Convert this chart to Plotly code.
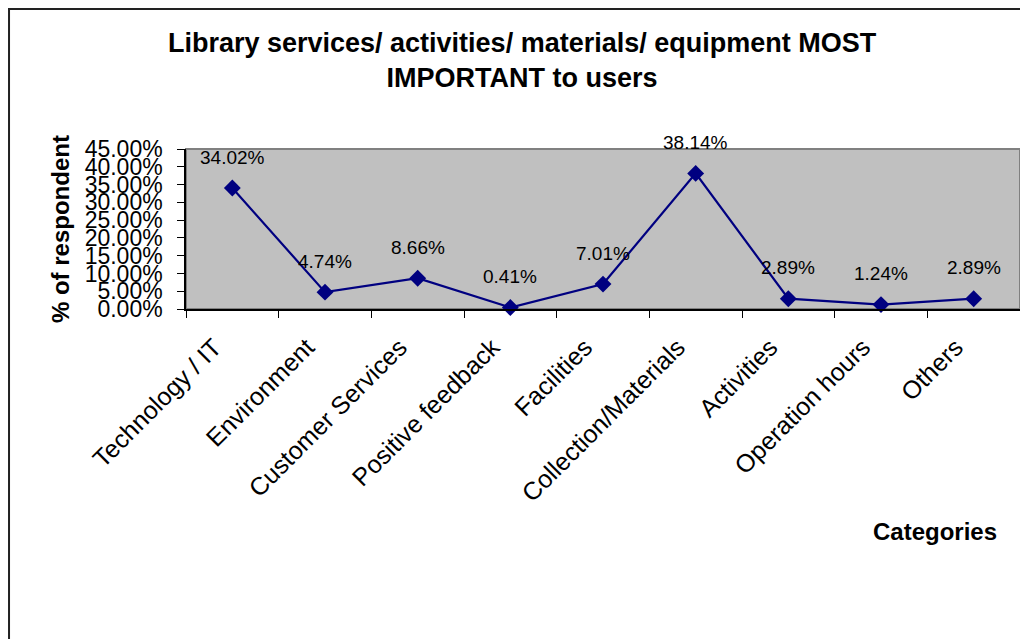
import plotly.graph_objects as go

categories = ["Technology / IT", "Environment", "Customer Services", "Positive feedback",
              "Facilities", "Collection/Materials", "Activities", "Operation hours", "Others"]
values = [34.02, 4.74, 8.66, 0.41, 7.01, 38.14, 2.89, 1.24, 2.89]
y_ticks = [0, 5, 10, 15, 20, 25, 30, 35, 40, 45]

title_text = "Library services/ activities/ materials/ equipment MOST<br>IMPORTANT to users"
y_title = "% of respondent"
x_title = "Categories"

FONT = "Liberation Sans, Arial, sans-serif"
NAVY = "#000080"

fig = go.Figure()
fig.add_trace(go.Scatter(
    x=categories, y=values, mode="lines+markers",
    line=dict(color=NAVY, width=2.2),
    marker=dict(symbol="diamond", size=13, color=NAVY),
    cliponaxis=False, hoverinfo="skip",
))

annotations = []
for c, v in zip(categories, values):
    annotations.append(dict(x=c, y=v, xref="x", yref="y", text=f"{v:.2f}%",
                            showarrow=False, yshift=31,
                            font=dict(family=FONT, size=19, color="black")))
annotations.append(dict(x=-0.151, y=0.5, xref="paper", yref="paper", text=f"<b>{y_title}</b>",
                        textangle=-90, showarrow=False, xanchor="center", yanchor="middle",
                        font=dict(family=FONT, size=24, color="black")))
annotations.append(dict(x=0.898, y=-1.3875, xref="paper", yref="paper", text=f"<b>{x_title}</b>",
                        showarrow=False, xanchor="center", yanchor="middle",
                        font=dict(family=FONT, size=24, color="black")))

fig.update_layout(
    width=1020, height=631,
    margin=dict(l=178, r=8, t=141, b=330),
    paper_bgcolor="white", plot_bgcolor="#C0C0C0",
    showlegend=False,
    title=dict(text=f"<b>{title_text}</b>", x=0.504, xanchor="center", y=0.93, yanchor="top",
               font=dict(family=FONT, size=27, color="black")),
    font=dict(family=FONT, color="black"),
    annotations=annotations,
    shapes=[
        dict(type="rect", xref="paper", yref="paper", x0=0, x1=1, y0=0, y1=1,
             line=dict(color="#808080", width=2), layer="below"),
        dict(type="rect", xref="paper", yref="paper", x0=-0.2122, x1=1.2, y0=-2.5, y1=1.875,
             line=dict(color="#222222", width=2), layer="below"),
    ],
)
fig.update_xaxes(
    type="category", range=[-0.5, 8.5], showgrid=False, zeroline=False,
    showline=True, linecolor="black", linewidth=1.5,
    ticks="outside", tickson="boundaries", ticklen=7, tickcolor="black",
    tickangle=-45, tickfont=dict(family=FONT, size=25, color="black"),
    ticklabelstandoff=12, ticklabelshift=-18,
)
fig.update_yaxes(
    range=[0, 45], tickvals=y_ticks, ticktext=[f"{t:.2f}%" for t in y_ticks],
    showgrid=False, zeroline=False,
    showline=True, linecolor="black", linewidth=1.5,
    ticks="outside", ticklen=7, tickcolor="black", ticklabelstandoff=10,
    tickfont=dict(family=FONT, size=23, color="black"),
)

fig.write_html("out.html")
